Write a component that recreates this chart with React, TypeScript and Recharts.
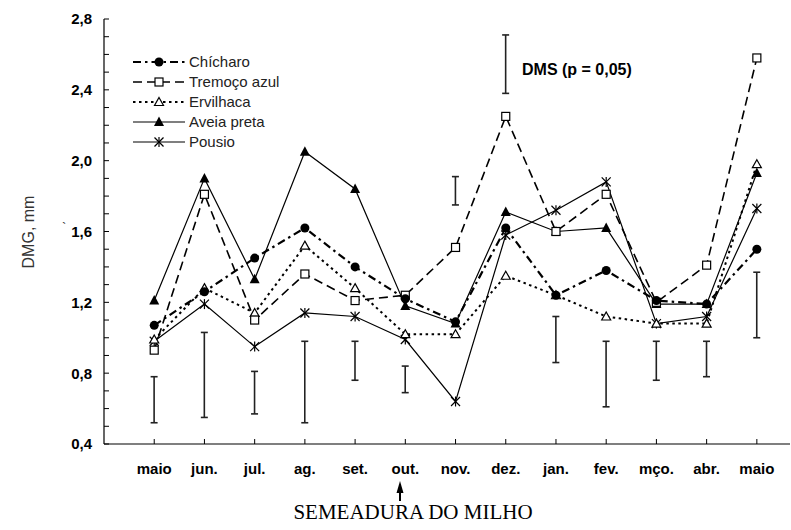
import React from 'react';
import { ComposedChart, Line, Bar, XAxis, YAxis } from 'recharts';

const months = ['maio', 'jun.', 'jul.', 'ag.', 'set.', 'out.', 'nov.', 'dez.', 'jan.', 'fev.', 'mço.', 'abr.', 'maio'];
const chicharo = [1.07, 1.26, 1.45, 1.62, 1.40, 1.22, 1.09, 1.62, 1.24, 1.38, 1.21, 1.19, 1.50];
const tremoco = [0.93, 1.81, 1.10, 1.36, 1.21, 1.24, 1.51, 2.25, 1.60, 1.81, 1.20, 1.41, 2.58];
const ervilhaca = [0.99, 1.28, 1.14, 1.52, 1.28, 1.02, 1.02, 1.35, 1.24, 1.12, 1.08, 1.08, 1.98];
const aveia = [1.21, 1.90, 1.33, 2.05, 1.84, 1.18, 1.08, 1.71, 1.60, 1.62, 1.19, 1.19, 1.93];
const pousio = [0.98, 1.19, 0.95, 1.14, 1.12, 0.99, 0.64, 1.58, 1.72, 1.88, 1.08, 1.12, 1.73];
const dmsLow = [0.52, 0.55, 0.57, 0.52, 0.76, 0.69, 1.75, 2.38, 0.86, 0.61, 0.76, 0.78, 1.00];
const dmsHigh = [0.78, 1.03, 0.81, 0.98, 0.98, 0.84, 1.91, 2.71, 1.12, 0.98, 0.98, 0.98, 1.37];
const xTicks = [0, 1, 2, 3, 4, 5, 6, 7, 8, 9, 10, 11, 12];
const yTicks = [0.4, 0.5, 0.6, 0.7, 0.8, 0.9, 1.0, 1.1, 1.2, 1.3, 1.4, 1.5, 1.6, 1.7, 1.8, 1.9, 2.0, 2.1, 2.2, 2.3, 2.4, 2.5, 2.6, 2.7, 2.8];
const seriesNames = ['Chícharo', 'Tremoço azul', 'Ervilhaca', 'Aveia preta', 'Pousio'];

const data = months.map((m, i) => ({
  i,
  m,
  chicharo: chicharo[i],
  tremoco: tremoco[i],
  ervilhaca: ervilhaca[i],
  aveia: aveia[i],
  pousio: pousio[i],
  dms: [dmsLow[i], dmsHigh[i]],
}));

const FONT = "'Liberation Sans', Arial, Helvetica, sans-serif";

type Kind = 'circle' | 'square' | 'triOpen' | 'tri' | 'star';

function Marker({ kind, cx, cy }: { kind: Kind; cx: number; cy: number }) {
  switch (kind) {
    case 'circle':
      return <circle cx={cx} cy={cy} r={4.5} fill="#000" />;
    case 'square':
      return <rect x={cx - 4} y={cy - 4} width={8} height={8} fill="#fff" stroke="#000" strokeWidth={1.2} />;
    case 'triOpen':
      return (
        <polygon
          points={`${cx},${cy - 4.5} ${cx + 4.5},${cy + 3.5} ${cx - 4.5},${cy + 3.5}`}
          fill="#fff"
          stroke="#000"
          strokeWidth={1.2}
        />
      );
    case 'tri':
      return <polygon points={`${cx},${cy - 5.5} ${cx + 5},${cy + 4} ${cx - 5},${cy + 4}`} fill="#000" />;
    case 'star':
      return (
        <g stroke="#000" strokeWidth={1.2}>
          <line x1={cx - 4.5} y1={cy - 4.5} x2={cx + 4.5} y2={cy + 4.5} />
          <line x1={cx - 4.5} y1={cy + 4.5} x2={cx + 4.5} y2={cy - 4.5} />
          <line x1={cx} y1={cy - 5} x2={cx} y2={cy + 5} />
        </g>
      );
  }
  return null;
}

const dotFor = (kind: Kind) => (p: any) => {
  if (p == null || p.cx == null || p.cy == null) return <g key={`e${p?.index}`} />;
  return (
    <g key={`${kind}-${p.index}`}>
      <Marker kind={kind} cx={p.cx} cy={p.cy} />
    </g>
  );
};

const styles = [
  { key: 'chicharo', kind: 'circle' as Kind, dash: '8 4 2.5 4', width: 2.2 },
  { key: 'tremoco', kind: 'square' as Kind, dash: '9 5', width: 1.6 },
  { key: 'ervilhaca', kind: 'triOpen' as Kind, dash: '2.5 3.5', width: 2 },
  { key: 'aveia', kind: 'tri' as Kind, dash: undefined, width: 1.2 },
  { key: 'pousio', kind: 'star' as Kind, dash: undefined, width: 1.2 },
];

const DmsShape = (p: any) => {
  const { x, y, width, height } = p;
  if (x == null || y == null) return <g />;
  const cx = x + width / 2;
  const top = Math.min(y, y + height);
  const bot = Math.max(y, y + height);
  return (
    <g stroke="#222" strokeWidth={1.6}>
      <line x1={cx} y1={top} x2={cx} y2={bot} />
      <line x1={cx - 3.5} y1={top} x2={cx + 3.5} y2={top} />
      <line x1={cx - 3.5} y1={bot} x2={cx + 3.5} y2={bot} />
    </g>
  );
};

const XTick = (p: any) => {
  const { x, y, payload } = p;
  return (
    <g>
      <line x1={x} y1={y} x2={x} y2={y - 5} stroke="#000" strokeWidth={1} />
      <text x={x} y={y + 30} textAnchor="middle" fontFamily={FONT} fontWeight="bold" fontSize={15} fill="#000">
        {months[payload.value]}
      </text>
    </g>
  );
};

const YTick = (p: any) => {
  const { x, y, payload } = p;
  const v = payload.value as number;
  const major = Math.round(v * 10) % 4 === 0;
  return (
    <g>
      <line x1={x} y1={y} x2={x + 5} y2={y} stroke="#000" strokeWidth={1} />
      {major ? (
        <text x={x - 12} y={y} dy="0.36em" textAnchor="end" fontFamily={FONT} fontWeight="bold" fontSize={15} fill="#000">
          {v.toFixed(1).replace('.', ',')}
        </text>
      ) : null}
    </g>
  );
};

export default function App() {
  return (
    <div style={{ position: 'absolute', left: 0, top: 0, width: 791, height: 530, background: '#fff' }}>
      <ComposedChart
        width={791}
        height={530}
        data={data}
        margin={{ top: 19, right: 1, bottom: 56, left: 44 }}
      >
        <XAxis
          type="number"
          dataKey="i"
          domain={[-1, 12.66]}
          ticks={xTicks}
          interval={0}
          tickSize={0}
          tickMargin={0}
          height={30}
          axisLine={{ stroke: '#000', strokeWidth: 1.2 }}
          tickLine={false}
          tick={XTick}
          allowDataOverflow
        />
        <YAxis
          type="number"
          domain={[0.4, 2.8]}
          ticks={yTicks}
          interval={0}
          tickSize={0}
          tickMargin={0}
          width={60}
          axisLine={{ stroke: '#000', strokeWidth: 1.2 }}
          tickLine={false}
          tick={YTick}
          allowDataOverflow
        />
        <Bar dataKey="dms" barSize={8} shape={DmsShape} isAnimationActive={false} />
        {styles
          .slice()
          .reverse()
          .map((s) => (
            <Line
              key={s.key}
              type="linear"
              dataKey={s.key}
              name={seriesNames[styles.indexOf(s)]}
              stroke="#000"
              strokeWidth={s.width}
              strokeDasharray={s.dash}
              dot={dotFor(s.kind)}
              activeDot={false}
              isAnimationActive={false}
            />
          ))}
      </ComposedChart>
      <svg
        width={791}
        height={530}
        style={{ position: 'absolute', left: 0, top: 0, pointerEvents: 'none' }}
      >
        {styles.map((s, k) => {
          const cy = 62 + k * 20;
          return (
            <g key={s.key}>
              <line x1={133} y1={cy} x2={185} y2={cy} stroke="#000" strokeWidth={s.width} strokeDasharray={s.dash} />
              <Marker kind={s.kind} cx={159} cy={cy} />
              <text x={189} y={cy} dy="0.36em" fontFamily={FONT} fontSize={15} fill="#222">
                {seriesNames[k]}
              </text>
            </g>
          );
        })}
        <text
          x={28}
          y={232}
          transform="rotate(-90 28 232)"
          textAnchor="middle"
          dy="0.36em"
          fontFamily={FONT}
          fontSize={16}
          fill="#333"
        >
          DMG, mm
        </text>
        <text x={62} y={232} fontFamily={FONT} fontSize={13} fill="#333">`</text>
        <text x={522} y={69} dy="0.36em" fontFamily={FONT} fontWeight="bold" fontSize={16} fill="#000">
          DMS (p = 0,05)
        </text>
        <line x1={400} y1={492} x2={400} y2={501} stroke="#000" strokeWidth={2} />
        <polygon points="400,481 396.5,493 403.5,493" fill="#000" />
        <text x={413} y={519} textAnchor="middle" fontFamily="'Liberation Serif', 'Times New Roman', serif" fontSize={21} fill="#000">
          SEMEADURA DO MILHO
        </text>
      </svg>
    </div>
  );
}
